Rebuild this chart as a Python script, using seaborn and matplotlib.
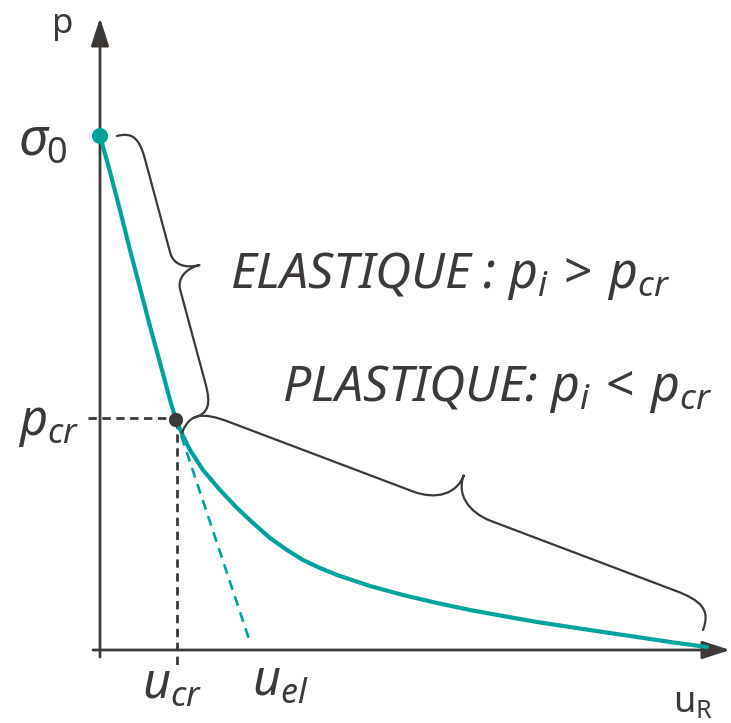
import numpy as np
import matplotlib
matplotlib.use("Agg")
import matplotlib.pyplot as plt
import seaborn as sns
import pandas as pd
from matplotlib.path import Path
from matplotlib.patches import PathPatch, FancyArrowPatch

# ---- curve data (u_R, p) ----
elastic_u = [0, 9.5, 20, 30, 40.5, 51, 62, 70, 76]
elastic_p = [514, 480, 440, 400, 360, 320, 280, 250, 230]

plastic_u = [76, 83, 90, 103, 120, 137, 153, 170, 187, 203, 220, 237,
             270, 303, 337, 370, 403, 437, 470, 503, 537, 570, 607]
plastic_p = [230, 214, 200, 180, 160, 142, 127, 112, 100, 90, 82, 75,
             64, 55, 47, 40, 34, 28, 23, 18, 13, 8, 3]

# elastic tangent continued from the critical point
tangent_u = [76, 150]
tangent_p = [230, 8]

sigma0 = (0, 514)
p_cr_point = (76, 230)
u_el_value = 152

TEAL = "#00A39B"
DARK = "#3D3937"

sns.set_theme(style="white")
plt.rcParams["font.family"] = ["Noto Sans", "DejaVu Sans"]
plt.rcParams["mathtext.fontset"] = "custom"
plt.rcParams["mathtext.it"] = "Noto Sans:italic"
plt.rcParams["mathtext.rm"] = "Noto Sans"
plt.rcParams["mathtext.sf"] = "Noto Sans"
plt.rcParams["mathtext.bf"] = "Noto Sans:bold"

fig = plt.figure(figsize=(7.31, 7.23), dpi=100)
ax = fig.add_axes([0, 0, 1, 1])
ax.set_xlim(-100, 631)
ax.set_ylim(-73, 650)
ax.set_axis_off()

# ---- axes with arrow heads ----
def axis_arrow(start, end):
    arr = FancyArrowPatch(start, end, arrowstyle="-|>,head_length=17,head_width=5.5",
                          mutation_scale=1, color=DARK, lw=2.0,
                          shrinkA=0, shrinkB=0, zorder=2)
    ax.add_patch(arr)

axis_arrow((0, -7), (0, 632))
axis_arrow((-7, 0), (630, 0))

# ---- reference dashed lines at the critical point ----
sns.lineplot(x=[-12, p_cr_point[0]], y=[p_cr_point[1] + 2] * 2, ax=ax,
             color=DARK, lw=2.0, sort=False, estimator=None)
ax.lines[-1].set_dashes((3.0, 2.0))
sns.lineplot(x=[p_cr_point[0] + 1] * 2, y=[p_cr_point[1], -18], ax=ax,
             color=DARK, lw=2.0, sort=False, estimator=None)
ax.lines[-1].set_dashes((3.0, 2.0))

# ---- tangent (dashed teal) ----
sns.lineplot(x=tangent_u, y=tangent_p, ax=ax, color=TEAL, lw=1.9,
             sort=False, estimator=None)
ax.lines[-1].set_dashes((3.8, 2.6))

# ---- main curve ----
curve = pd.DataFrame({
    "u": elastic_u + plastic_u[1:],
    "p": elastic_p + plastic_p[1:],
})
sns.lineplot(data=curve, x="u", y="p", ax=ax, color=TEAL, lw=3.0,
             sort=False, estimator=None, zorder=3)
ax.lines[-1].set_solid_capstyle("round")
ax.lines[-1].set_solid_joinstyle("round")

# ---- points ----
sns.scatterplot(x=[sigma0[0]], y=[sigma0[1]], ax=ax, color=TEAL, s=135,
                edgecolor="none", zorder=5)
sns.scatterplot(x=[p_cr_point[0]], y=[p_cr_point[1]], ax=ax, color=DARK, s=105,
                edgecolor="none", zorder=5)

# ---- curly braces ----
def brace(a, b, q, h, c, tip):
    a = np.asarray(a, float)
    b = np.asarray(b, float)
    L = np.linalg.norm(b - a)
    d = (b - a) / L
    n = np.array([-d[1], d[0]])
    m = L / 2
    local = [
        (0, 0), (0, 0.8 * h), (0.3 * q, h), (q, h),
        (m - c, h),
        (m - 0.4 * c, h), (m, tip - 0.6 * (tip - h)), (m, tip),
        (m, tip - 0.6 * (tip - h)), (m + 0.4 * c, h), (m + c, h),
        (L - q, h),
        (L - 0.3 * q, h), (L, 0.8 * h), (L, 0),
    ]
    codes = [Path.MOVETO, Path.CURVE4, Path.CURVE4, Path.CURVE4,
             Path.LINETO,
             Path.CURVE4, Path.CURVE4, Path.CURVE4,
             Path.CURVE4, Path.CURVE4, Path.CURVE4,
             Path.LINETO,
             Path.CURVE4, Path.CURVE4, Path.CURVE4]
    verts = [a + t * d + s * n for t, s in local]
    ax.add_patch(PathPatch(Path(verts, codes), fill=False, edgecolor=DARK,
                           lw=1.6, capstyle="round", joinstyle="round", zorder=4))

brace((sigma0[0] + 17, sigma0[1]), (p_cr_point[0] + 17, p_cr_point[1] + 2),
      q=30, h=21, c=19, tip=46)
brace((p_cr_point[0] + 6, p_cr_point[1] - 13), (603, 20),
      q=40, h=27, c=42, tip=60)

# ---- labels ----
ax.text(-48, 617, "p", color=DARK, fontsize=25, ha="left", va="baseline")
ax.text(-82, 495, r"$\sigma_\mathit{0}$", color=DARK, fontsize=37, ha="left", va="baseline")
ax.text(-82, 215, r"$p_{cr}$", color=DARK, fontsize=35, ha="left", va="baseline")
ax.text(42, -48, r"$u_{cr}$", color=DARK, fontsize=35, ha="left", va="baseline")
ax.text(u_el_value, -45, r"$u_{el}$", color=DARK, fontsize=35, ha="left", va="baseline")
ax.text(573, -62, r"$\mathrm{u}_\mathrm{R}$", color=DARK, fontsize=26, ha="left", va="baseline")

ax.text(130, 362, r"ELASTIQUE : $p_i\,>\,p_{cr}$", color=DARK,
        fontsize=36, style="italic", ha="left", va="baseline")
ax.text(182, 249, r"PLASTIQUE: $p_i\,<\,p_{cr}$", color=DARK,
        fontsize=36, style="italic", ha="left", va="baseline")

fig.savefig("out.png", dpi=100)
